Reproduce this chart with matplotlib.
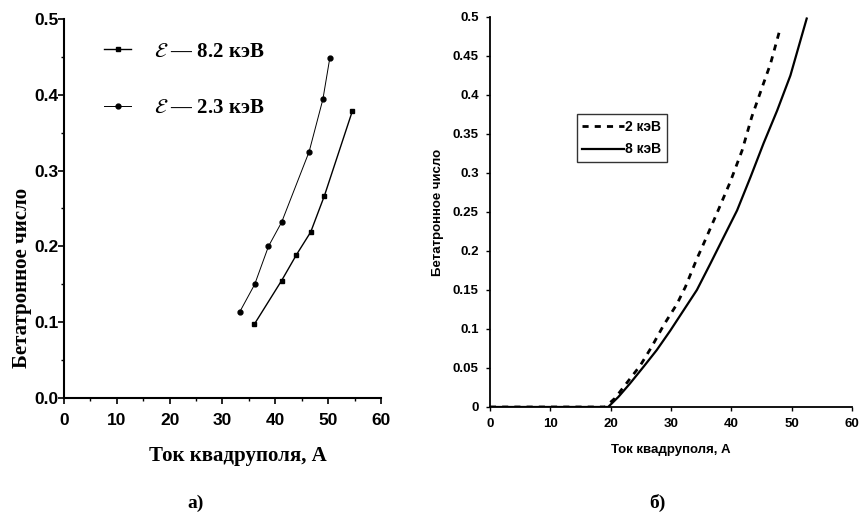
import matplotlib
matplotlib.use('Agg')
import matplotlib.pyplot as plt
import numpy as np

# панель а) — эксперимент
ток_23 = [33.3, 36.1, 38.7, 41.2, 46.4, 49.0, 50.3]
число_23 = [0.114, 0.150, 0.200, 0.232, 0.325, 0.394, 0.448]
ток_82 = [36.0, 41.2, 44.0, 46.7, 49.3, 54.6]
число_82 = [0.097, 0.155, 0.189, 0.219, 0.267, 0.379]

# панель б) — расчёт
ток_2 = [0, 10, 19.1, 20.7, 22.6, 24.9, 26.8, 28.8, 31.0, 32.4, 34.3, 35.4,
         37.6, 39.8, 41.8, 43.4, 45.35, 46.5, 48.1]
число_2 = [0, 0, 0, 0.011, 0.030, 0.053, 0.077, 0.105, 0.132, 0.154, 0.190,
           0.209, 0.248, 0.288, 0.329, 0.372, 0.415, 0.440, 0.485]
ток_8 = [0, 10, 19.6, 21.3, 23.2, 25.4, 27.65, 29.9, 32.1, 34.3, 36.55, 38.75,
         40.96, 43.2, 45.35, 47.6, 49.8, 52.5]
число_8 = [0, 0, 0, 0.013, 0.030, 0.051, 0.073, 0.098, 0.124, 0.150, 0.184,
           0.218, 0.252, 0.295, 0.338, 0.380, 0.425, 0.498]

plt.rcParams['mathtext.fontset'] = 'stix'

fig = plt.figure(figsize=(8.61, 5.24), dpi=100)
fig.patch.set_facecolor('white')

# ---------- а) ----------
ax1 = fig.add_axes([0.0743, 0.2405, 0.3682, 0.7232])
ax1.plot(ток_82, число_82, color='black', linewidth=1.0, marker='s', markersize=3.5,
         label=r'$\mathcal{E}$ — 8.2 кэВ')
ax1.plot(ток_23, число_23, color='black', linewidth=0.7, marker='o', markersize=3.5,
         label=r'$\mathcal{E}$ — 2.3 кэВ')
ax1.set_xlim(0, 60)
ax1.set_ylim(0, 0.5)
ax1.set_xticks(np.arange(0, 61, 10))
ax1.set_xticks(np.arange(0, 61, 5), minor=True)
ax1.set_yticks(np.arange(0, 0.51, 0.1))
ax1.set_yticks(np.arange(0, 0.51, 0.05), minor=True)
ax1.set_yticklabels(['0.0', '0.1', '0.2', '0.3', '0.4', '0.5'])
for lbl in ax1.get_xticklabels() + ax1.get_yticklabels():
    lbl.set_family('Liberation Sans')
    lbl.set_fontweight('bold')
    lbl.set_fontsize(12.5)
ax1.tick_params(which='major', direction='out', length=4, width=1.2)
ax1.tick_params(which='minor', direction='out', length=2, width=1.0)
ax1.tick_params(axis='x', which='major', pad=7)
ax1.tick_params(axis='y', which='major', pad=0)
ax1.spines['top'].set_visible(False)
ax1.spines['right'].set_visible(False)
ax1.spines['left'].set_linewidth(1.5)
ax1.spines['bottom'].set_linewidth(1.5)
ax1.set_xlabel('Ток квадруполя, А', family='Liberation Serif', fontweight='bold',
               fontsize=15)
ax1.set_ylabel('Бетатронное число', family='Liberation Serif', fontweight='bold',
               fontsize=15)
ax1.xaxis.set_label_coords(0.55, -0.127)
ax1.yaxis.set_label_coords(-0.1, 0.317)
leg1 = ax1.legend(loc='upper left', bbox_to_anchor=(0.1, 0.962), frameon=False,
                  prop={'family': 'Liberation Serif', 'weight': 'bold', 'size': 15},
                  handlelength=1.3, handletextpad=1.1, labelspacing=1.75,
                  borderaxespad=0)
fig.text(0.227, 0.03, 'а)', family='Liberation Serif', fontweight='bold',
         fontsize=14, ha='center')

# ---------- б) ----------
ax2 = fig.add_axes([0.569, 0.2233, 0.4205, 0.7443])
ax2.plot(ток_2, число_2, color='black', linewidth=2.0, linestyle=(0, (2.2, 2.2)),
         label='2 кэВ')
ax2.plot(ток_8, число_8, color='black', linewidth=1.6, label='8 кэВ')
ax2.set_xlim(0, 60)
ax2.set_ylim(0, 0.5)
ax2.set_xticks(np.arange(0, 61, 10))
ax2.set_yticks(np.arange(0, 0.51, 0.05))
ax2.set_yticklabels(['0', '0.05', '0.1', '0.15', '0.2', '0.25', '0.3', '0.35',
                     '0.4', '0.45', '0.5'])
for lbl in ax2.get_xticklabels() + ax2.get_yticklabels():
    lbl.set_family('Liberation Sans')
    lbl.set_fontweight('bold')
    lbl.set_fontsize(9.5)
ax2.tick_params(direction='out', length=3, width=1.0, pad=5)
ax2.spines['top'].set_visible(False)
ax2.spines['right'].set_visible(False)
ax2.spines['left'].set_linewidth(1.3)
ax2.spines['bottom'].set_linewidth(1.3)
ax2.set_xlabel('Ток квадруполя, А', family='Liberation Sans', fontweight='bold',
               fontsize=9.5, labelpad=10)
ax2.set_ylabel('Бетатронное число', family='Liberation Sans', fontweight='bold',
               fontsize=9.5, labelpad=6)
leg2 = ax2.legend(loc='upper left', bbox_to_anchor=(0.24, 0.75), frameon=True,
                  fancybox=False, edgecolor='black',
                  prop={'family': 'Liberation Sans', 'weight': 'bold', 'size': 10},
                  handlelength=3.0, handletextpad=0.1, borderpad=0.4,
                  labelspacing=0.6, borderaxespad=0)
leg2.get_frame().set_linewidth(1.0)
fig.text(0.763, 0.03, 'б)', family='Liberation Serif', fontweight='bold',
         fontsize=14, ha='center')

fig.savefig('out.png', dpi=100)
